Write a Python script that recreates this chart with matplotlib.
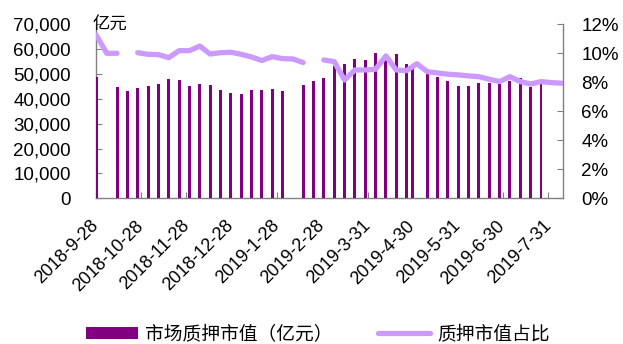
import matplotlib
matplotlib.use('Agg')
import matplotlib.pyplot as plt
import matplotlib.dates as mdates
import numpy as np
import pandas as pd

plt.rcParams['font.family'] = ['Liberation Sans', 'Noto Sans CJK SC', 'DejaVu Sans']

# ---- data ----
bar_dates = ['2018-09-28', '2018-10-12', '2018-10-19', '2018-10-26', '2018-11-02',
             '2018-11-09', '2018-11-16', '2018-11-23', '2018-11-30', '2018-12-07',
             '2018-12-14', '2018-12-21', '2018-12-28', '2019-01-04', '2019-01-11',
             '2019-01-18', '2019-01-25', '2019-02-01', '2019-02-15', '2019-02-22',
             '2019-03-01', '2019-03-08', '2019-03-15', '2019-03-22', '2019-03-29',
             '2019-04-05', '2019-04-12', '2019-04-19', '2019-04-26', '2019-04-30',
             '2019-05-10', '2019-05-17', '2019-05-24', '2019-05-31', '2019-06-07',
             '2019-06-14', '2019-06-21', '2019-06-28', '2019-07-05', '2019-07-12',
             '2019-07-19', '2019-07-26']
bar_values = [48800, 44600, 43200, 44200, 45000,
              45900, 48000, 47500, 45100, 46000,
              45500, 43600, 42400, 41900, 43600,
              43600, 43900, 43000, 45500, 47200,
              48400, 53200, 54100, 56100, 55600,
              58300, 57800, 58000, 53900, 53300,
              50200, 48700, 47000, 45200, 45200,
              46400, 46400, 46200, 47100, 48200,
              44800, 45800]

line_dates = ['2018-09-28', '2018-10-05', '2018-10-12', '2018-10-19', '2018-10-26',
              '2018-11-02', '2018-11-09', '2018-11-16', '2018-11-23', '2018-11-30',
              '2018-12-07', '2018-12-14', '2018-12-21', '2018-12-28', '2019-01-04',
              '2019-01-11', '2019-01-18', '2019-01-25', '2019-02-01', '2019-02-08',
              '2019-02-15', '2019-02-22', '2019-03-01', '2019-03-08', '2019-03-15',
              '2019-03-22', '2019-03-29', '2019-04-05', '2019-04-12', '2019-04-19',
              '2019-04-26', '2019-05-03', '2019-05-10', '2019-05-17', '2019-05-24',
              '2019-05-31', '2019-06-07', '2019-06-14', '2019-06-21', '2019-06-28',
              '2019-07-05', '2019-07-12', '2019-07-19', '2019-07-26', '2019-08-02',
              '2019-08-09']
line_values = [11.25, 10.00, 10.00, np.nan, 10.04,
               9.93, 9.91, 9.70, 10.18, 10.18,
               10.50, 9.95, 10.04, 10.07, 9.93,
               9.75, 9.50, 9.77, 9.63, 9.61,
               9.36, np.nan, 9.54, 9.43, 8.16,
               8.85, 8.85, 8.90, 9.82, 8.85,
               8.80, 9.28, 8.73, 8.64, 8.56,
               8.51, 8.44, 8.39, 8.21, 8.05,
               8.39, 8.05, 7.88, 8.05, 7.98,
               7.94]

tick_labels = ['2018-9-28', '2018-10-28', '2018-11-28', '2018-12-28', '2019-1-28',
               '2019-2-28', '2019-3-31', '2019-4-30', '2019-5-31', '2019-6-30', '2019-7-31']

left_ticks = [0, 10000, 20000, 30000, 40000, 50000, 60000, 70000]
right_ticks = [0, 2, 4, 6, 8, 10, 12]

bar_name = '市场质押市值（亿元）'
line_name = '质押市值占比'
unit_text = '亿元'

# ---- figure ----
W, H = 623, 344
fig = plt.figure(figsize=(W / 100, H / 100), dpi=100)
x0, x1, yb, yt = 96, 563.3, 198.3, 24.3
ax = fig.add_axes([x0 / W, 1 - yb / H, (x1 - x0) / W, (yb - yt) / H])

bx = mdates.date2num(pd.to_datetime(bar_dates))
ax.bar(bx, bar_values, width=2.0, color='#800080', label=bar_name, zorder=3)

ax2 = ax.twinx()
lx = mdates.date2num(pd.to_datetime(line_dates))
ax2.plot(lx, line_values, color='#CC99FF', lw=3.8, solid_capstyle='round',
         solid_joinstyle='round', label=line_name)

start = mdates.date2num(pd.Timestamp('2018-09-28'))
end = mdates.date2num(pd.Timestamp('2019-08-10'))
ax.set_xlim(start - 0.25, end + 0.1)

tick_pos = mdates.date2num(pd.to_datetime(tick_labels, format='%Y-%m-%d'))
ax.set_xticks(tick_pos)
ax.set_xticklabels(tick_labels, rotation=45, ha='right', va='center',
                   rotation_mode='anchor', fontsize=13)

ax.set_ylim(0, 70000)
ax.set_yticks(left_ticks)
ax.set_yticklabels([f'{v:,}' for v in left_ticks], fontsize=13.5)
ax2.set_ylim(0, 12)
ax2.set_yticks(right_ticks)
ax2.set_yticklabels([f'{v}%' for v in right_ticks], fontsize=13.5)

grey = '#808080'
ax.spines['top'].set_visible(False)
ax.spines['right'].set_visible(False)
for s in ('left', 'bottom'):
    ax.spines[s].set_color(grey)
    ax.spines[s].set_linewidth(1.0)
    ax.spines[s].set_zorder(2)
for s in ('top', 'left', 'bottom'):
    ax2.spines[s].set_visible(False)
ax2.spines['right'].set_color(grey)
ax2.spines['right'].set_linewidth(1.0)

ax.tick_params(axis='x', direction='in', length=4, pad=18, color=grey)
ax.tick_params(axis='y', direction='in', length=4, pad=18, color=grey)
ax2.tick_params(axis='y', direction='in', length=4, pad=13, color=grey)

fig.text(93 / W, 1 - 25 / H, unit_text, fontsize=12.5, ha='left', va='center',
         family=['Noto Sans CJK SC'])

h1, l1 = ax.get_legend_handles_labels()
h2, l2 = ax2.get_legend_handles_labels()
fig.legend(h1 + h2, l1 + l2, loc='center', bbox_to_anchor=(0.51, 0.027), ncol=2,
           frameon=False, fontsize=13.5, handlelength=2.8, handleheight=0.65,
           handletextpad=0.37, columnspacing=2.4)

fig.savefig('out.png', dpi=100)
